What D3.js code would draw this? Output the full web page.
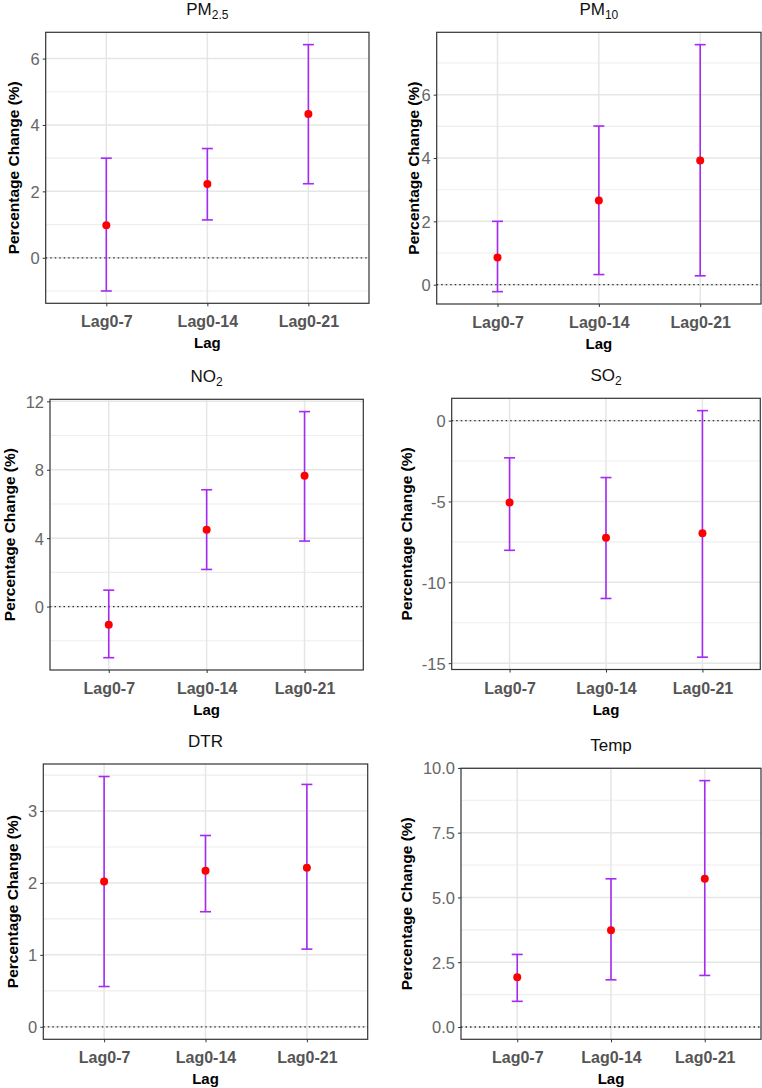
<!DOCTYPE html>
<html><head><meta charset="utf-8">
<script src="https://cdn.jsdelivr.net/npm/d3@7"></script>
<style>
body{margin:0;background:#fff}
svg{display:block}
text{font-family:"Liberation Sans",Arial,Helvetica,sans-serif}
</style>
</head><body>
<svg id="chart" width="762" height="1088"></svg>
<script>
// ---- data ----
const lags = ["Lag0-7", "Lag0-14", "Lag0-21"];

const pm25Est  = [0.98, 2.22, 4.33];
const pm25Low  = [-1.00, 1.14, 2.23];
const pm25High = [3.00, 3.29, 6.42];
const pm25Ticks = [0, 2, 4, 6];

const pm10Est  = [0.86, 2.66, 3.92];
const pm10Low  = [-0.22, 0.32, 0.28];
const pm10High = [2.00, 5.01, 7.58];
const pm10Ticks = [0, 2, 4, 6];

const no2Est  = [-1.07, 4.49, 7.65];
const no2Low  = [-2.99, 2.17, 3.83];
const no2High = [0.96, 6.83, 11.40];
const no2Ticks = [0, 4, 8, 12];

const so2Est  = [-5.06, -7.24, -6.96];
const so2Low  = [-8.02, -11.00, -14.63];
const so2High = [-2.30, -3.52, 0.62];
const so2Ticks = [-15, -10, -5, 0];

const dtrEst  = [2.02, 2.17, 2.21];
const dtrLow  = [0.56, 1.60, 1.08];
const dtrHigh = [3.48, 2.66, 3.37];
const dtrTicks = [0, 1, 2, 3];

const tempEst  = [1.92, 3.73, 5.72];
const tempLow  = [0.99, 1.82, 1.99];
const tempHigh = [2.80, 5.72, 9.51];
const tempTicks = [0, 2.5, 5, 7.5, 10];

const panelTitles = [["PM", "2.5"], ["PM", "10"], ["NO", "2"], ["SO", "2"], ["DTR", ""], ["Temp", ""]];
const yTitle = "Percentage Change (%)";
const xTitle = "Lag";

// ---- layout (pixel boxes: left, right, top, bottom; y-title x) ----
const layout = [
  {box: [45.7, 369, 32.3, 303.3], ylab: 14},
  {box: [436.7, 761, 32.3, 304], ylab: 414},
  {box: [50, 363.3, 399.3, 670], ylab: 10},
  {box: [451.7, 760.3, 398.3, 669.5], ylab: 407},
  {box: [43.3, 367.7, 764, 1039.3], ylab: 13},
  {box: [461, 761, 768.3, 1039.3], ylab: 407}
];

const series = [
  {est: pm25Est, lo: pm25Low, hi: pm25High, ticks: pm25Ticks, fmt: d3.format("d")},
  {est: pm10Est, lo: pm10Low, hi: pm10High, ticks: pm10Ticks, fmt: d3.format("d")},
  {est: no2Est, lo: no2Low, hi: no2High, ticks: no2Ticks, fmt: d3.format("d")},
  {est: so2Est, lo: so2Low, hi: so2High, ticks: so2Ticks, fmt: d => d3.format("d")(d).replace("−", "-")},
  {est: dtrEst, lo: dtrLow, hi: dtrHigh, ticks: dtrTicks, fmt: d3.format("d")},
  {est: tempEst, lo: tempLow, hi: tempHigh, ticks: tempTicks, fmt: d3.format(".1f")}
];

const svg = d3.select("#chart");

series.forEach((s, i) => {
  const [L, R, T, B] = layout[i].box;
  const g = svg.append("g");

  // domains like ggplot: data range incl. 0 line, expanded 5%
  const mn = Math.min(0, d3.min(s.lo)), mx = Math.max(0, d3.max(s.hi));
  const pad = (mx - mn) * 0.05;
  const y = d3.scaleLinear().domain([mn - pad, mx + pad]).range([B, T]);
  const x = d3.scalePoint().domain(lags).range([L, R]).padding(0.6);

  g.append("rect").attr("x", L).attr("y", T).attr("width", R - L).attr("height", B - T).attr("fill", "#fff");

  // minor grid
  const step = s.ticks[1] - s.ticks[0];
  const minor = [];
  for (let v = s.ticks[0] - step / 2; v <= y.domain()[1]; v += step) {
    if (v >= y.domain()[0]) minor.push(v);
  }
  g.selectAll(".mg").data(minor).enter().append("line")
    .attr("x1", L).attr("x2", R).attr("y1", d => y(d)).attr("y2", d => y(d))
    .attr("stroke", "#eeeeee").attr("stroke-width", 1.1);

  // major grid
  g.selectAll(".Mg").data(s.ticks).enter().append("line")
    .attr("x1", L).attr("x2", R).attr("y1", d => y(d)).attr("y2", d => y(d))
    .attr("stroke", "#e6e6e6").attr("stroke-width", 1.5);
  g.selectAll(".vg").data(lags).enter().append("line")
    .attr("x1", d => x(d)).attr("x2", d => x(d)).attr("y1", T).attr("y2", B)
    .attr("stroke", "#e6e6e6").attr("stroke-width", 1.5);

  // zero dotted line
  g.append("line").attr("x1", L).attr("x2", R).attr("y1", y(0)).attr("y2", y(0))
    .attr("stroke", "#333").attr("stroke-width", 1.3).attr("stroke-dasharray", "1.5,3");

  // error bars
  const cap = 5.5;
  const col = "#A52AF2";
  const eb = g.selectAll(".eb").data(lags).enter().append("g");
  eb.append("line").attr("x1", d => x(d)).attr("x2", d => x(d))
    .attr("y1", (d, k) => y(s.lo[k])).attr("y2", (d, k) => y(s.hi[k]))
    .attr("stroke", col).attr("stroke-width", 1.6);
  eb.append("line").attr("x1", d => x(d) - cap).attr("x2", d => x(d) + cap)
    .attr("y1", (d, k) => y(s.lo[k])).attr("y2", (d, k) => y(s.lo[k]))
    .attr("stroke", col).attr("stroke-width", 1.6);
  eb.append("line").attr("x1", d => x(d) - cap).attr("x2", d => x(d) + cap)
    .attr("y1", (d, k) => y(s.hi[k])).attr("y2", (d, k) => y(s.hi[k]))
    .attr("stroke", col).attr("stroke-width", 1.6);

  // points
  g.selectAll(".pt").data(lags).enter().append("circle")
    .attr("cx", d => x(d)).attr("cy", (d, k) => y(s.est[k])).attr("r", 4)
    .attr("fill", "#FF0000");

  // border
  g.append("rect").attr("x", L).attr("y", T).attr("width", R - L).attr("height", B - T)
    .attr("fill", "none").attr("stroke", "#333").attr("stroke-width", 1.2);

  // y axis
  const ya = g.append("g").attr("transform", `translate(${L},0)`)
    .call(d3.axisLeft(y).tickValues(s.ticks).tickSize(3).tickPadding(3).tickFormat(s.fmt));
  ya.select(".domain").remove();
  ya.selectAll(".tick line").attr("stroke", "#333");
  ya.selectAll(".tick text").attr("fill", "#666").style("font-size", "16.5px")
    .style("font-family", "'Liberation Sans',Arial,sans-serif").attr("dy", "0.36em");

  // x axis
  const xa = g.append("g").attr("transform", `translate(0,${B})`)
    .call(d3.axisBottom(x).tickSize(3).tickPadding(5));
  xa.select(".domain").remove();
  xa.selectAll(".tick line").attr("stroke", "#333");
  xa.selectAll(".tick text").attr("fill", "#555").style("font-size", "16px").style("font-weight", "bold")
    .style("font-family", "'Liberation Sans',Arial,sans-serif").attr("dy", null).attr("y", 24);

  // x title
  g.append("text").attr("x", (L + R) / 2).attr("y", B + 45).attr("text-anchor", "middle")
    .style("font-size", "15px").style("font-weight", "bold").attr("fill", "#000").text(xTitle);

  // y title
  g.append("text").attr("transform", `translate(${layout[i].ylab + 5},${(T + B) / 2}) rotate(-90)`)
    .attr("text-anchor", "middle").style("font-size", "15.5px").style("font-weight", "bold")
    .attr("fill", "#000").text(yTitle);

  // panel title
  const t = g.append("text").attr("x", (L + R) / 2).attr("y", T - 17).attr("text-anchor", "middle")
    .style("font-size", "17px").attr("fill", "#111");
  t.append("tspan").text(panelTitles[i][0]);
  if (panelTitles[i][1]) {
    t.append("tspan").attr("dy", 4).style("font-size", "12px").text(panelTitles[i][1]);
  }
});
</script>
</body></html>
